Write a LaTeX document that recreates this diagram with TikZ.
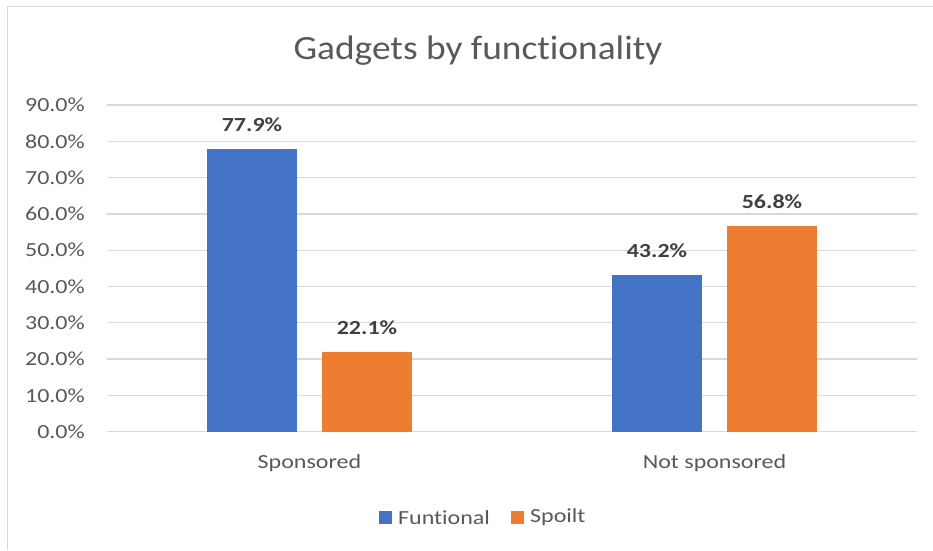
\documentclass[tikz,border=0pt]{standalone}
\usepackage{fontspec}
\setmainfont{Carlito}[Ligatures={NoCommon,NoRare},FakeStretch=1.2]
\newfontfamily\titlefont{Carlito}[Ligatures={NoCommon,NoRare},FakeStretch=1.1]
\definecolor{cblue}{HTML}{4472C4}
\definecolor{corange}{HTML}{ED7D31}
\definecolor{cgrid}{HTML}{D9D9D9}
\definecolor{ctext}{HTML}{595959}
\definecolor{clabel}{HTML}{404040}
\begin{document}
\begin{tikzpicture}[x=1pt,y=-1pt,
  grid/.style={draw=cgrid,line width=1.3pt},
  ytick/.style={anchor=east,text=ctext,font=\fontsize{20}{22}\selectfont,inner sep=0pt},
  val/.style={text=clabel,font=\bfseries\fontsize{20}{22}\selectfont,inner sep=0pt},
  cat/.style={text=ctext,font=\fontsize{20}{22}\selectfont,inner sep=0pt},
  leg/.style={text=ctext,font=\fontsize{20}{22}\selectfont,inner sep=0pt,anchor=west}]
\useasboundingbox (0,0) rectangle (933,550);
\fill[white] (0,0) rectangle (933,550);
\draw[cgrid,line width=1.3pt] (7.5,550) -- (7.5,6.5) -- (933,6.5);
\node[text=ctext,font=\titlefont\fontsize{34}{38}\selectfont,inner sep=0pt] (title) at (478,51) {Gadgets by functionality};
% gridlines and y labels
\foreach \i/\lab in {0/0.0,1/10.0,2/20.0,3/30.0,4/40.0,5/50.0,6/60.0,7/70.0,8/80.0,9/90.0}{
  \pgfmathsetmacro{\yy}{431.7-36.3*\i}
  \draw[grid] (107,\yy) -- (917,\yy);
  \node[ytick] (yl\i) at (85,\yy) {\lab\%};
}
% bars
\path[fill=cblue] (207,431.7) rectangle (297,148.9);
\path[fill=corange] (322,431.7) rectangle (412,351.5);
\path[fill=cblue] (612,431.7) rectangle (702,274.9);
\path[fill=corange] (727,431.7) rectangle (817,225.5);
\node[val] (v1) at (252,125) {77.9\%};
\node[val] (v2) at (367,327.5) {22.1\%};
\node[val] (v3) at (657,251) {43.2\%};
\node[val] (v4) at (772,201.5) {56.8\%};
\node[cat] (c1) at (309.5,463) {Sponsored};
\node[cat] (c2) at (714.5,463) {Not sponsored};
% legend
\fill[cblue] (379,511) rectangle (392,524);
\node[leg] (l1) at (398,517.5) {Funtional};
\fill[corange] (511,511) rectangle (524,524);
\node[leg] (l2) at (530,517.5) {Spoilt};
\end{tikzpicture}
\end{document}
